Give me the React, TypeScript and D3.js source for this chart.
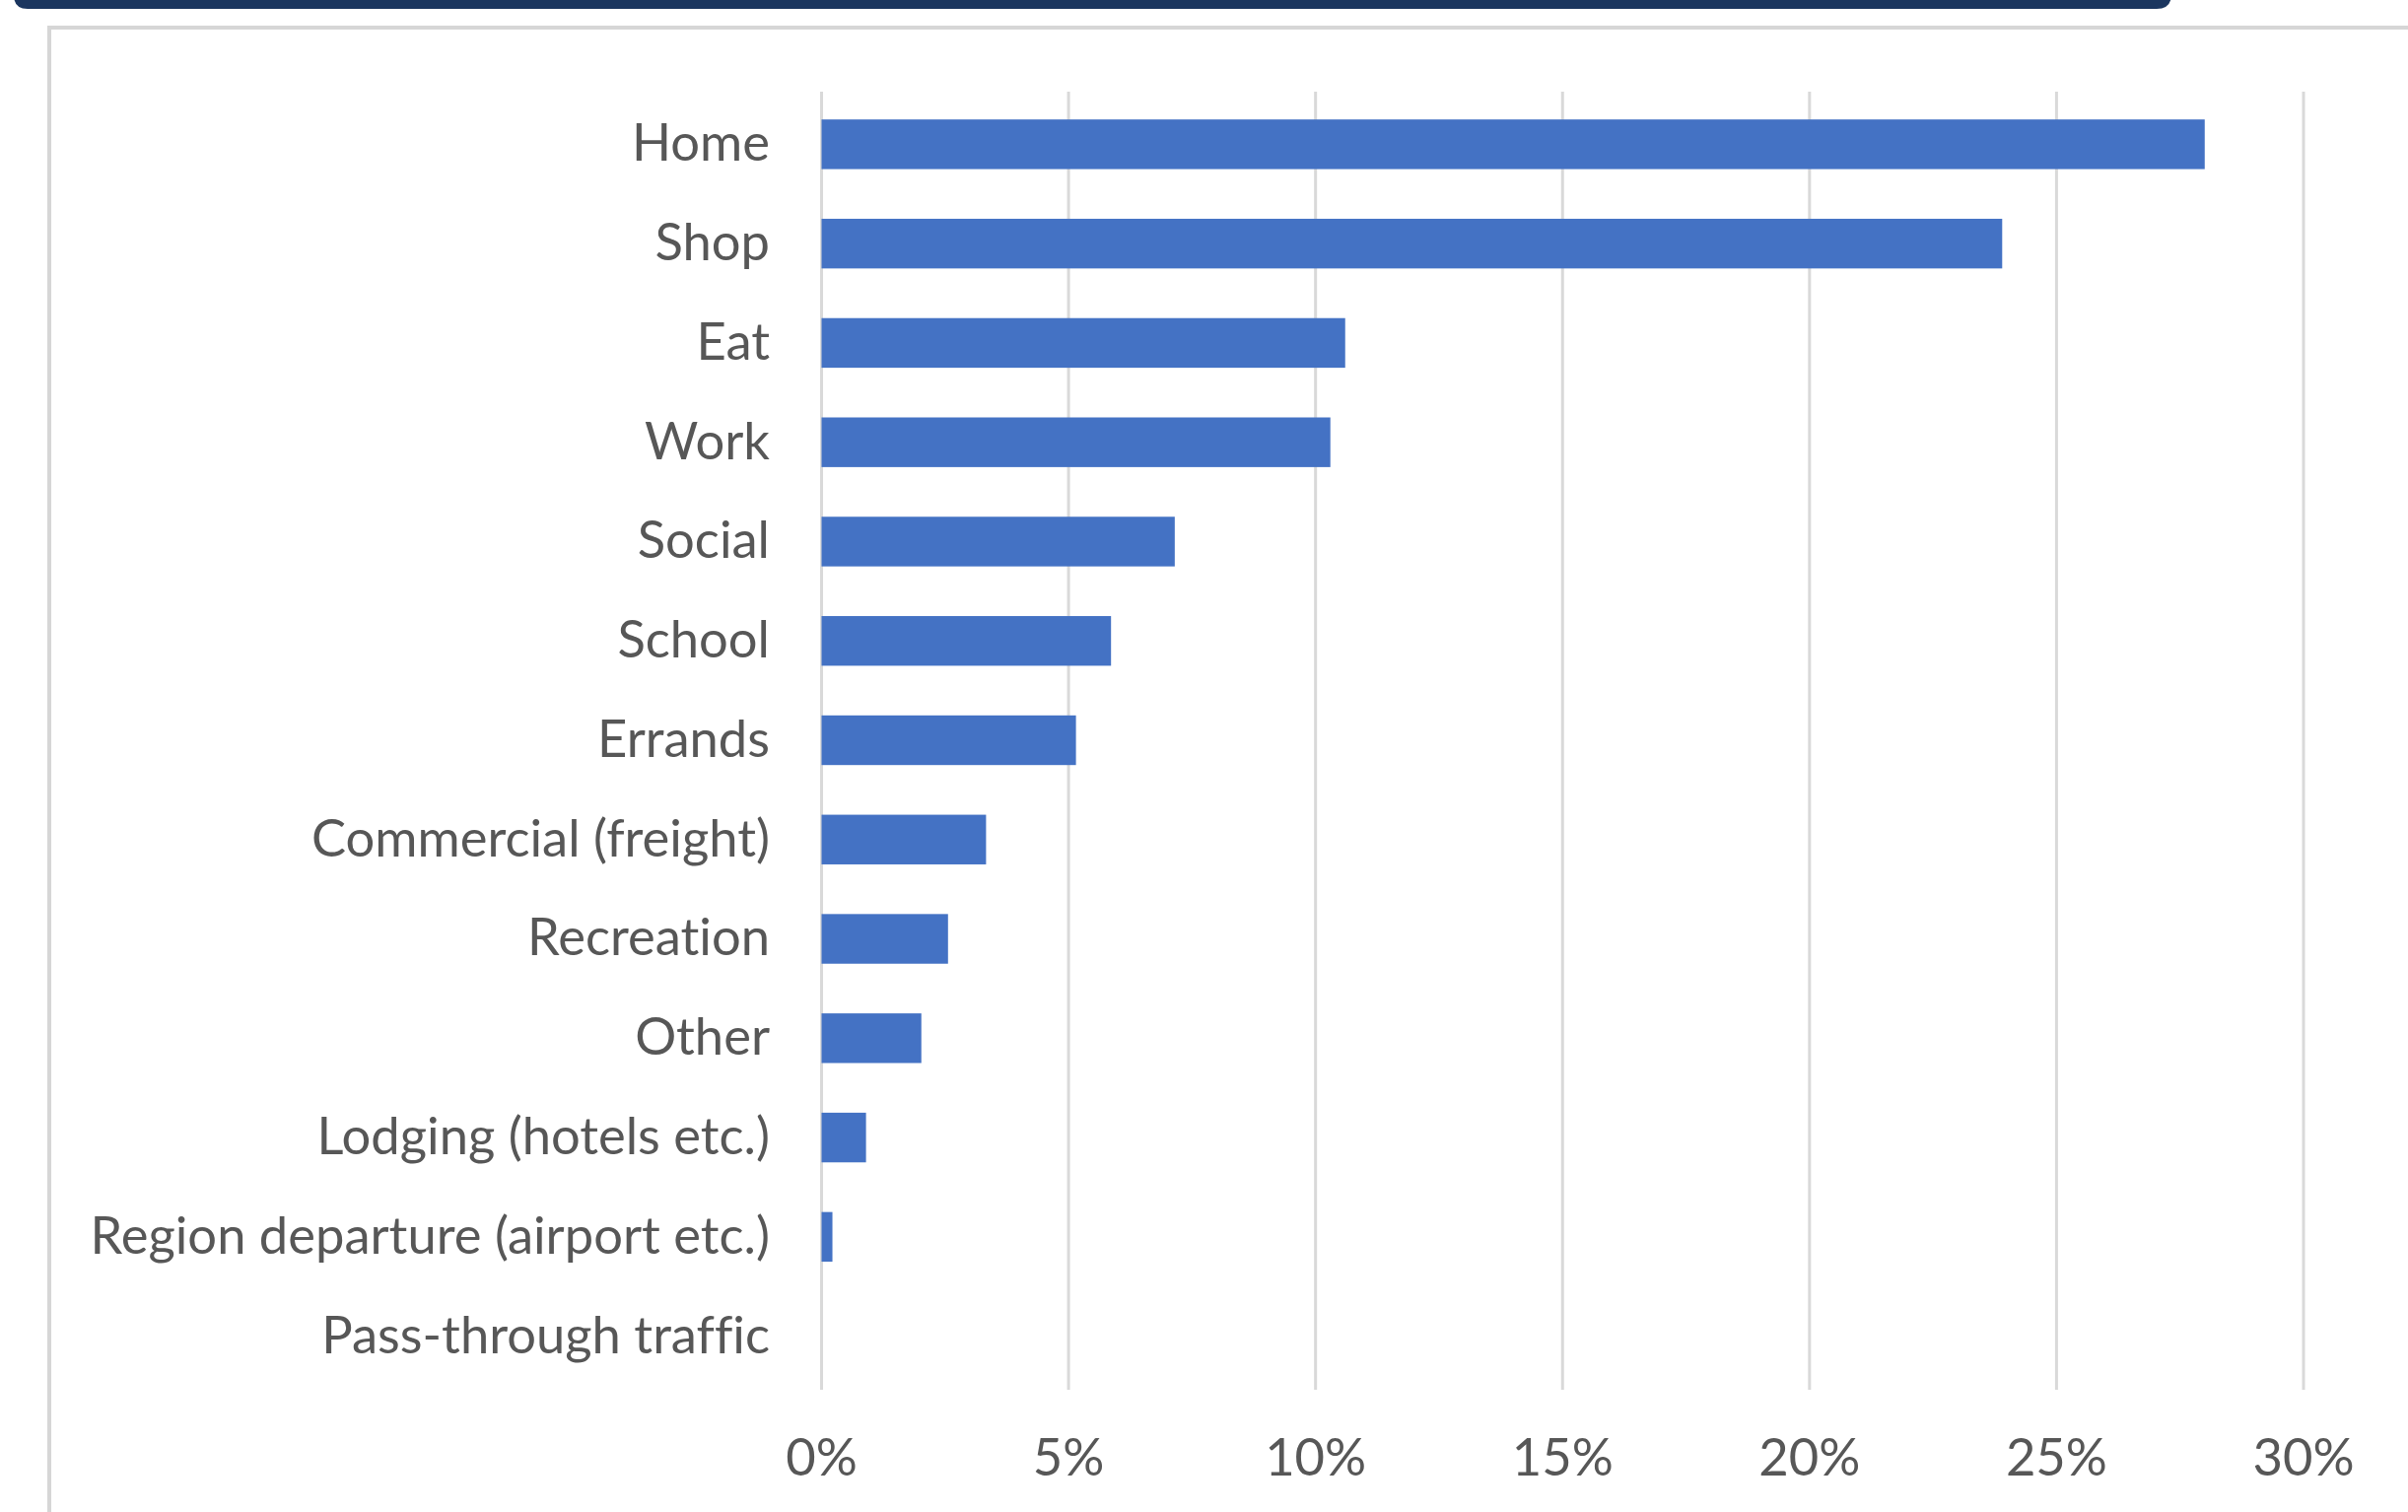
import React from "react";
import * as d3 from "d3";

const categories = [
  "Home",
  "Shop",
  "Eat",
  "Work",
  "Social",
  "School",
  "Errands",
  "Commercial (freight)",
  "Recreation",
  "Other",
  "Lodging (hotels etc.)",
  "Region departure (airport etc.)",
  "Pass-through traffic",
];
const shares = [28.0, 23.9, 10.6, 10.3, 7.15, 5.86, 5.15, 3.33, 2.56, 2.02, 0.9, 0.22, 0];
const tickValues = [0, 5, 10, 15, 20, 25, 30];

const W = 2443;
const H = 1534;
const FONT = "Lato, 'Open Sans', sans-serif";
const TEXT = "#575757";
const BAR = "#4472C4";
const GRID = "#d9d9d9";

export default function App() {
  const x = d3.scaleLinear().domain([0, 30]).range([833.5, 2337]);
  const y = d3
    .scaleBand<string>()
    .domain(categories)
    .range([96, 1406])
    .paddingInner(0.5)
    .paddingOuter(0.25);
  const [y0, y1] = y.range();
  const fontSize = 52.5;
  const cap = fontSize * 0.72;
  const textStyle = { fontVariantLigatures: "none" as const };

  return (
    <svg
      width={W}
      height={H}
      viewBox={`0 0 ${W} ${H}`}
      style={{ position: "absolute", left: 0, top: 0, background: "#fff" }}
    >
      <rect x={0} y={0} width={W} height={H} fill="#ffffff" />
      {/* header band */}
      <path
        d={`M0,0 H2203 V-6 Q2203,9 2188,9 H28 Q14,9 14,-5 Z`}
        fill="#1b365f"
      />
      {/* chart frame */}
      <path
        d={`M50,${H + 5} V28 H${W + 5}`}
        fill="none"
        stroke="#d6d6d6"
        strokeWidth={4}
      />
      {/* gridlines */}
      {tickValues.map((t) => (
        <line
          key={"g" + t}
          x1={x(t)}
          x2={x(t)}
          y1={y0 - 3}
          y2={y1 + 4}
          stroke={GRID}
          strokeWidth={3}
        />
      ))}
      {/* bars */}
      {categories.map((c, i) => (
        <rect
          key={c}
          x={x(0)}
          y={y(c)}
          width={Math.max(0, x(shares[i]) - x(0))}
          height={y.bandwidth()}
          fill={BAR}
        />
      ))}
      {/* category labels */}
      {categories.map((c) => (
        <text
          key={"l" + c}
          x={781}
          y={(y(c) as number) + y.bandwidth() / 2 + cap / 2 - 2}
          textAnchor="end"
          fontFamily={FONT}
          fontSize={fontSize}
          fill={TEXT}
          style={textStyle}
        >
          {c}
        </text>
      ))}
      {/* tick labels */}
      {tickValues.map((t) => (
        <text
          key={"t" + t}
          x={x(t)}
          y={1497}
          textAnchor="middle"
          fontFamily={FONT}
          fontSize={fontSize}
          fill={TEXT}
          style={textStyle}
        >
          {d3.format(".0%")(t / 100)}
        </text>
      ))}
    </svg>
  );
}
